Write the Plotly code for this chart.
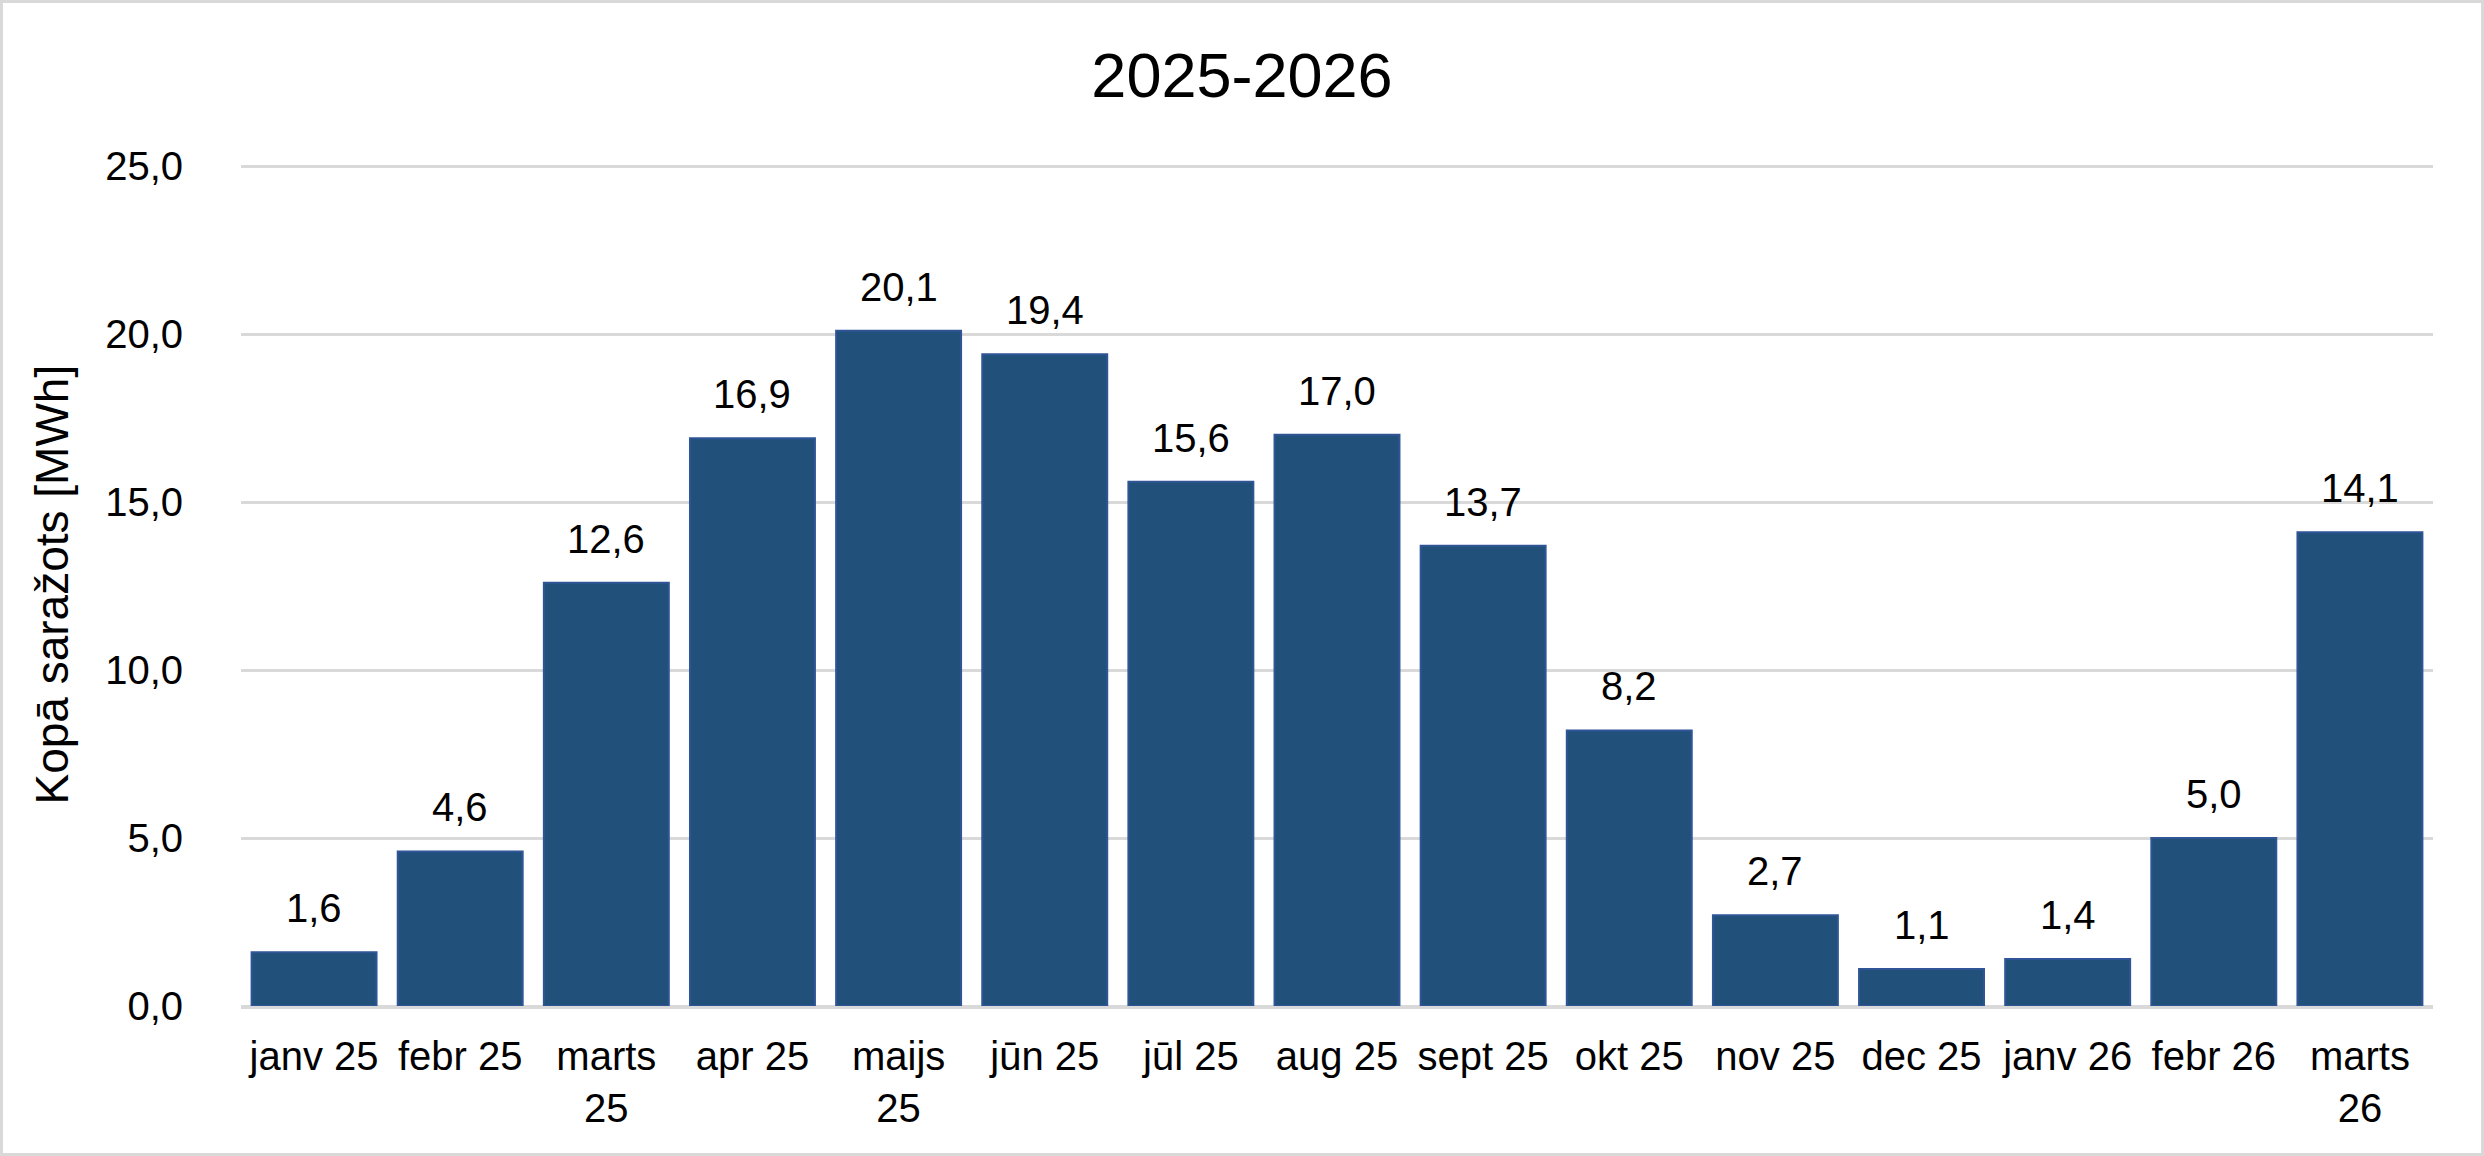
import plotly.graph_objects as go

categories = ["janv 25", "febr 25", "marts 25", "apr 25", "maijs 25", "jūn 25", "jūl 25",
              "aug 25", "sept 25", "okt 25", "nov 25", "dec 25", "janv 26", "febr 26", "marts 26"]
tick_labels = ["janv 25", "febr 25", "marts<br>25", "apr 25", "maijs<br>25", "jūn 25", "jūl 25",
               "aug 25", "sept 25", "okt 25", "nov 25", "dec 25", "janv 26", "febr 26", "marts<br>26"]
values = [1.6, 4.6, 12.6, 16.9, 20.1, 19.4, 15.6, 17.0, 13.7, 8.2, 2.7, 1.1, 1.4, 5.0, 14.1]
y_ticks = [0, 5, 10, 15, 20, 25]

W, H = 2484, 1156
ML, MR, MT, MB = 241, 51, 163, 150
PW, PH = W - ML - MR, H - MT - MB
FONT = "Liberation Sans, Arial, sans-serif"
y_top = 25 * PH / (PH - 3)  # leaves the 25 gridline just inside the plot area

fig = go.Figure()
fig.add_trace(go.Bar(
    x=categories, y=values,
    marker=dict(color="#21507a", line=dict(color="#2f5597", width=2)),
    hoverinfo="skip",
))

for c, v in zip(categories, values):
    fig.add_annotation(
        x=c, y=v, text=f"{v:.1f}".replace(".", ","),
        showarrow=False, yanchor="bottom", yshift=20,
        font=dict(family=FONT, size=40, color="black"),
    )

fig.add_annotation(
    xref="paper", yref="paper", x=(51 - ML) / PW, y=0.5,
    text="Kopā saražots [MWh]", textangle=-90, showarrow=False,
    xanchor="center", yanchor="middle",
    font=dict(family=FONT, size=46, color="black"),
)

fig.add_shape(
    type="rect", xref="paper", yref="paper",
    x0=(1.5 - ML) / PW, x1=(W - 1.5 - ML) / PW,
    y0=-(MB - 1.5) / PH, y1=1 + (MT - 1.5) / PH,
    line=dict(color="#d9d9d9", width=3), fillcolor="rgba(0,0,0,0)", layer="below",
)

fig.update_layout(
    width=W, height=H,
    margin=dict(l=ML, r=MR, t=MT, b=MB, autoexpand=False),
    paper_bgcolor="white", plot_bgcolor="white",
    separators=", ",
    bargap=0.145,
    showlegend=False,
    title=dict(text="2025-2026", x=0.5, xanchor="center", xref="container",
               y=1 - 75 / H, yanchor="middle", yref="container",
               font=dict(family=FONT, size=63, color="black")),
    font=dict(family=FONT, size=40, color="black"),
    xaxis=dict(
        tickmode="array", tickvals=categories, ticktext=tick_labels,
        showgrid=False, showline=True, linecolor="#d9d9d9", linewidth=3,
        ticks="", ticklabelstandoff=13, tickfont=dict(family=FONT, size=40, color="black"),
    ),
    yaxis=dict(
        range=[0, y_top], tickmode="array", tickvals=y_ticks, tickformat=".1f",
        showgrid=True, gridcolor="#d9d9d9", gridwidth=3,
        zeroline=True, zerolinecolor="#d9d9d9", zerolinewidth=3,
        showline=False, ticks="", ticklabelstandoff=57,
        tickfont=dict(family=FONT, size=40, color="black"),
    ),
)

fig.write_html("out.html", config={"displayModeBar": False},
               post_script="document.body.style.margin='0';document.body.style.overflow='hidden';")
